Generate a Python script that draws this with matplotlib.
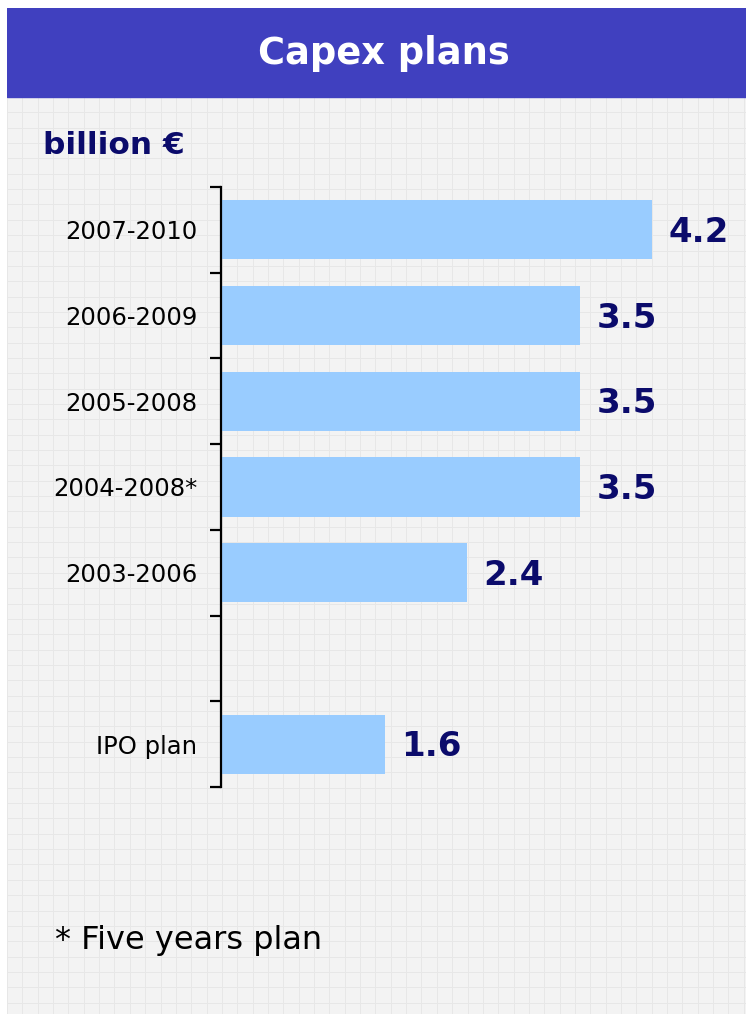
import numpy as np
import matplotlib.pyplot as plt
from matplotlib.patches import Rectangle

# capex plans, billion euro
plans = ["2007-2010", "2006-2009", "2005-2008", "2004-2008*", "2003-2006", "IPO plan"]
capex = [4.2, 3.5, 3.5, 3.5, 2.4, 1.6]

BAR_COLOR = "#99ccff"
NAVY = "#0b0b6b"
BAND = "#4040bf"

W, H = 746, 1014
fig = plt.figure(figsize=(W / 100, H / 100), dpi=100)
fig.patch.set_facecolor("white")

# squared paper background, in pixel units
bg = fig.add_axes([7 / W, 0, (W - 7) / W, (H - 8) / H])
bg.set_xlim(0, W - 7)
bg.set_ylim(H - 8, 0)
bg.set_facecolor("#f3f3f3")
step = 15.35
for x in np.arange(0, W, step):
    bg.axvline(x, color="#e7e7e7", lw=0.7, zorder=1)
for y in np.arange(89, H, step):
    bg.axhline(y, color="#e7e7e7", lw=0.7, zorder=1)
bg.add_patch(Rectangle((0, 0), W, 89, color=BAND, zorder=2))
bg.text(377, 45, "Capex plans", color="white", fontsize=26.5,
        fontweight="bold", ha="center", va="center", zorder=3)
bg.text(36, 137, "billion €", color=NAVY, fontsize=22.5, fontweight="bold",
        ha="left", va="center", zorder=3)
bg.text(48, 932, "* Five years plan", color="black", fontsize=23,
        ha="left", va="center", zorder=3)
bg.axis("off")
bg.add_patch(Rectangle((0, 0), W, H, facecolor="#f3f3f3", zorder=0))

# bar chart, one empty slot between the yearly plans and the IPO plan
positions = list(range(5)) + [6]
top, bottom, left = 187, 787, 221
ax = fig.add_axes([left / W, 1 - bottom / H, (W - left) / W, (bottom - top) / H])
ax.set_facecolor("none")
ax.barh(positions, capex, height=0.69, color=BAR_COLOR, zorder=2)
ax.set_xlim(0, (W - left) / 102.6)
ax.set_ylim(6.5, -0.5)

for pos, val in zip(positions, capex):
    ax.text(val + 0.16, pos + 0.03, f"{val:.1f}", color=NAVY, fontsize=24.5,
            fontweight="bold", ha="left", va="center")

for side in ["top", "right", "bottom"]:
    ax.spines[side].set_visible(False)
ax.spines["left"].set_linewidth(1.6)
ax.set_xticks([])
ax.set_yticks(positions)
ax.set_yticklabels(plans, fontsize=17.5)
ax.set_yticks(np.arange(-0.5, 7, 1), minor=True)
ax.tick_params(axis="y", which="major", length=0, pad=17)
ax.tick_params(axis="y", which="minor", length=8, width=1.6, direction="out")

fig.savefig("out.png", dpi=100)
